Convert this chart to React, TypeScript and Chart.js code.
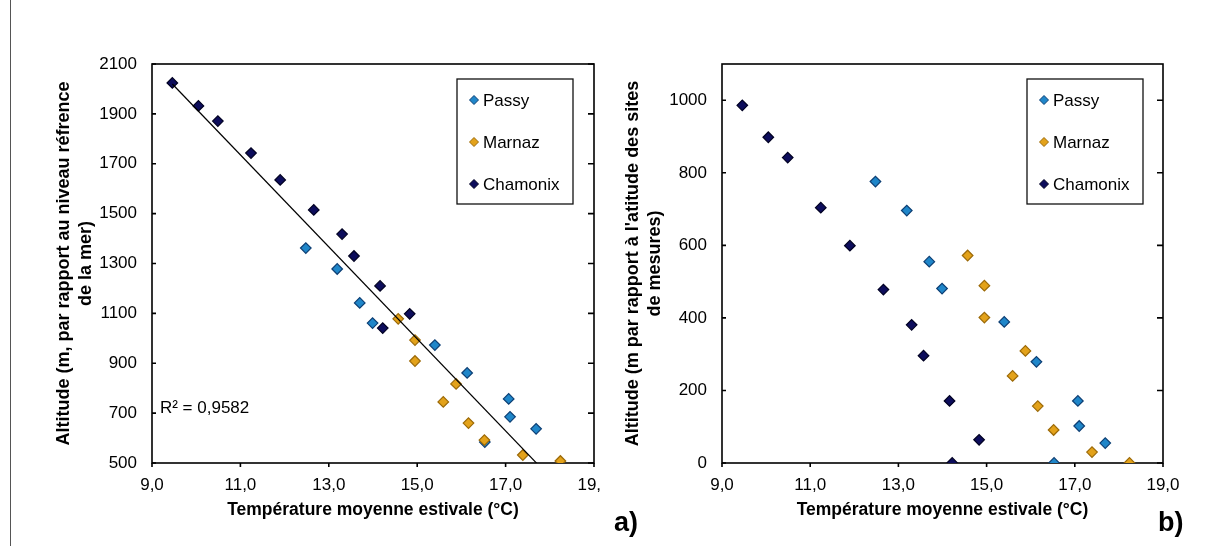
import React, { useEffect, useRef } from "react";
import { Chart, registerables } from "chart.js";
Chart.register(...registerables);

// ---------- data ----------
const seriesNames = ["Passy", "Marnaz", "Chamonix"];

const passyTemp = [12.48, 13.19, 13.7, 13.99, 15.4, 16.13, 17.07, 17.1, 17.69, 16.53];
const passyAltSea = [1362, 1278, 1142, 1061, 973, 861, 757, 685, 637, 584];
const passyAltSite = [776, 696, 555, 481, 389, 279, 171, 102, 55, 0];

const marnazTemp = [14.57, 14.95, 14.95, 15.88, 15.59, 16.16, 16.52, 17.39, 18.24];
const marnazAltSea = [1078, 993, 909, 817, 745, 660, 592, 532, 508];
const marnazAltSite = [572, 489, 401, 309, 240, 157, 91, 30, 0];

const chamonixTemp = [9.46, 10.05, 10.49, 11.24, 11.9, 12.66, 13.3, 13.57, 14.16, 14.83, 14.22];
const chamonixAltSea = [2024, 1932, 1871, 1743, 1635, 1515, 1418, 1330, 1210, 1098, 1041];
const chamonixAltSite = [986, 898, 842, 704, 599, 478, 381, 296, 171, 64, 0];

const r2Label = "R² = 0,9582";
const xTitle = "Température moyenne estivale (°C)";
const yTitleA = ["Altitude (m, par rapport au niveau réfrence", "de la mer)"];
const yTitleB = ["Altitude (m par rapport à l'atitude des sites", "de mesures)"];

// ---------- styles ----------
const FONT = "'Liberation Sans', Arial, Helvetica, sans-serif";
const colors = [
  { fill: "#1f86c9", border: "#0d3f74" },
  { fill: "#e3a21a", border: "#9c6a08" },
  { fill: "#0d0d5c", border: "#000022" },
];

const pts = (xs: number[], ys: number[]) => xs.map((x, i) => ({ x, y: ys[i] }));

function regression(xs: number[], ys: number[]) {
  const n = xs.length;
  const mx = xs.reduce((a, b) => a + b, 0) / n;
  const my = ys.reduce((a, b) => a + b, 0) / n;
  let sxy = 0, sxx = 0;
  for (let i = 0; i < n; i++) {
    sxy += (xs[i] - mx) * (ys[i] - my);
    sxx += (xs[i] - mx) ** 2;
  }
  const b = sxy / sxx;
  return { a: my - b * mx, b };
}

const diamond = (ctx: CanvasRenderingContext2D, x: number, y: number, r: number, fill: string, stroke: string) => {
  ctx.beginPath();
  ctx.moveTo(x, y - r);
  ctx.lineTo(x + r, y);
  ctx.lineTo(x, y + r);
  ctx.lineTo(x - r, y);
  ctx.closePath();
  ctx.fillStyle = fill;
  ctx.fill();
  ctx.lineWidth = 1;
  ctx.strokeStyle = stroke;
  ctx.stroke();
};

interface Opts {
  altP: number[];
  altM: number[];
  altC: number[];
  yMin: number;
  yMax: number;
  yTitle: string[];
  yAxisWidth: number;
  yTitlePad: number;
  padRight: number;
  trend: boolean;
  legendDx: number;
}

function makeConfig(o: Opts): any {
  const datasets: any[] = [
    { data: pts(passyTemp, o.altP), c: colors[0], order: 3, label: seriesNames[0] },
    { data: pts(marnazTemp, o.altM), c: colors[1], order: 2, label: seriesNames[1] },
    { data: pts(chamonixTemp, o.altC), c: colors[2], order: 1, label: seriesNames[2] },
  ].map((d) => ({
    type: "scatter",
    label: d.label,
    data: d.data,
    order: d.order,
    pointStyle: "rectRot",
    pointRadius: 5.3,
    pointBackgroundColor: d.c.fill,
    pointBorderColor: d.c.border,
    pointBorderWidth: 1.2,
    showLine: false,
  }));

  if (o.trend) {
    const allX = [...passyTemp, ...marnazTemp, ...chamonixTemp];
    const allY = [...o.altP, ...o.altM, ...o.altC];
    const { a, b } = regression(allX, allY);
    const x0 = Math.min(...allX);
    const x1 = Math.max(...allX);
    datasets.push({
      type: "line",
      label: "trend",
      data: [
        { x: x0, y: a + b * x0 },
        { x: x1, y: a + b * x1 },
      ],
      order: 0,
      borderColor: "#000",
      borderWidth: 1.2,
      pointRadius: 0,
      fill: false,
    });
  }

  const framePlugin = {
    id: "frame",
    beforeDatasetsDraw(chart: any) {
      const { ctx, chartArea } = chart;
      const { left, right, top, bottom } = chartArea;
      const xs = chart.scales.x;
      const ys = chart.scales.y;
      ctx.save();
      ctx.strokeStyle = "#000";
      ctx.lineWidth = 1.6;
      ctx.strokeRect(left, top, right - left, bottom - top);
      ctx.beginPath();
      ys.ticks.forEach((t: any) => {
        const py = ys.getPixelForValue(t.value);
        ctx.moveTo(left, py);
        ctx.lineTo(left + 4, py);
        ctx.moveTo(right - 6, py);
        ctx.lineTo(right, py);
      });
      xs.ticks.forEach((t: any) => {
        const px = xs.getPixelForValue(t.value);
        ctx.moveTo(px, bottom);
        ctx.lineTo(px, bottom + 4);
      });
      ctx.stroke();
      ctx.restore();
    },
    afterDraw(chart: any) {
      const { ctx, chartArea } = chart;
      const { right, top } = chartArea;
      ctx.save();
      const w = 116;
      const h = 125;
      const bx = right - o.legendDx - w;
      const by = top + 15;
      ctx.fillStyle = "#fff";
      ctx.fillRect(bx, by, w, h);
      ctx.strokeStyle = "#111";
      ctx.lineWidth = 1.3;
      ctx.strokeRect(bx, by, w, h);
      ctx.font = `17px ${FONT}`;
      ctx.textBaseline = "middle";
      ctx.textAlign = "left";
      seriesNames.forEach((name, i) => {
        const cy = by + 21 + i * 42;
        diamond(ctx, bx + 17, cy, 4.5, colors[i].fill, colors[i].border);
        ctx.fillStyle = "#000";
        ctx.fillText(name, bx + 26, cy + 1);
      });
      if (o.trend) {
        const xs = chart.scales.x;
        const ys = chart.scales.y;
        ctx.fillStyle = "#000";
        ctx.font = `17px ${FONT}`;
        ctx.textBaseline = "middle";
        ctx.fillText(r2Label, xs.getPixelForValue(9.18), ys.getPixelForValue(720));
      }
      ctx.restore();
    },
  };

  return {
    data: { datasets },
    plugins: [framePlugin],
    options: {
      animation: false,
      responsive: false,
      devicePixelRatio: 1,
      layout: {
        autoPadding: false,
        padding: { left: 0, right: o.padRight, top: 64, bottom: 0 },
      },
      plugins: { legend: { display: false }, tooltip: { enabled: false } },
      scales: {
        x: {
          type: "linear",
          min: 9,
          max: 19,
          afterFit: (s: any) => {
            s.height = 83;
          },
          ticks: {
            stepSize: 2,
            padding: 12,
            color: "#000",
            font: { family: FONT, size: 17 },
            callback: (v: any) => Number(v).toFixed(1).replace(".", ","),
          },
          grid: { display: false, drawTicks: false },
          border: { display: false },
          title: {
            display: true,
            text: xTitle,
            color: "#000",
            font: { family: FONT, size: 17.5, weight: "bold", lineHeight: 1.2 },
            padding: { top: 0, bottom: 25 },
          },
        },
        y: {
          type: "linear",
          min: o.yMin,
          max: o.yMax,
          afterFit: (s: any) => {
            s.width = o.yAxisWidth;
          },
          afterBuildTicks: (s: any) => {
            s.ticks = s.ticks.filter((t: any) => (t.value - o.yMin) % 200 === 0);
          },
          ticks: {
            stepSize: 200,
            padding: 15,
            color: "#000",
            font: { family: FONT, size: 17 },
            callback: (v: any) => String(v),
          },
          grid: { display: false, drawTicks: false },
          border: { display: false },
          title: {
            display: true,
            text: o.yTitle,
            color: "#000",
            font: { family: FONT, size: 18, weight: "bold", lineHeight: 1.22 },
            padding: { top: o.yTitlePad, bottom: 0 },
          },
        },
      },
    },
  };
}

function ChartCanvas({ width, height, opts }: { width: number; height: number; opts: Opts }) {
  const ref = useRef<HTMLCanvasElement | null>(null);
  useEffect(() => {
    if (!ref.current) return;
    const chart = new Chart(ref.current, makeConfig(opts));
    return () => chart.destroy();
  }, []);
  return <canvas ref={ref} width={width} height={height} style={{ width, height, display: "block" }} />;
}

export default function App() {
  return (
    <div style={{ position: "absolute", left: 0, top: 0, width: 1206, height: 546, background: "#fff", overflow: "hidden" }}>
      <div style={{ position: "absolute", left: 10, top: 0, width: 1, height: 546, background: "#555" }} />
      <div style={{ position: "absolute", left: 0, top: 0, width: 600, height: 546, overflow: "hidden" }}>
        <ChartCanvas
          width={640}
          height={546}
          opts={{
            altP: passyAltSea,
            altM: marnazAltSea,
            altC: chamonixAltSea,
            yMin: 500,
            yMax: 2100,
            yTitle: yTitleA,
            yAxisWidth: 152,
            yTitlePad: 53,
            padRight: 46,
            trend: true,
            legendDx: 21,
          }}
        />
      </div>
      <div style={{ position: "absolute", left: 600, top: 0, width: 606, height: 546, overflow: "hidden" }}>
        <ChartCanvas
          width={606}
          height={546}
          opts={{
            altP: passyAltSite,
            altM: marnazAltSite,
            altC: chamonixAltSite,
            yMin: 0,
            yMax: 1100,
            yTitle: yTitleB,
            yAxisWidth: 122,
            yTitlePad: 22,
            padRight: 43,
            trend: false,
            legendDx: 20,
          }}
        />
      </div>
      <div style={{ position: "absolute", left: 614, top: 507, font: `bold 27px ${FONT}`, lineHeight: "30px", color: "#000" }}>a)</div>
      <div style={{ position: "absolute", left: 1158, top: 507, font: `bold 27px ${FONT}`, lineHeight: "30px", color: "#000" }}>b)</div>
    </div>
  );
}
